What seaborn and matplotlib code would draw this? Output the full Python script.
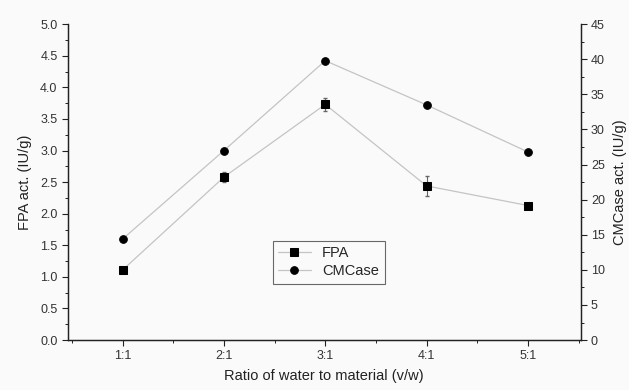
import numpy as np
import pandas as pd
import matplotlib
matplotlib.use("Agg")
import matplotlib.pyplot as plt
import seaborn as sns
from matplotlib.ticker import MultipleLocator

categories = ["1:1", "2:1", "3:1", "4:1", "5:1"]
fpa_values = [1.11, 2.58, 3.73, 2.44, 2.13]
fpa_errors = [0.04, 0.08, 0.10, 0.16, 0.04]
cmcase_values = [14.4, 27.0, 39.8, 33.5, 26.8]
cmcase_errors = [0.3, 0.3, 0.3, 0.3, 0.3]

sns.set_theme(style="ticks")
plt.rcParams['font.family'] = ['Liberation Sans', 'DejaVu Sans']

fig = plt.figure(figsize=(6.29, 3.90), dpi=100, facecolor="#fafafa")
ax = fig.add_axes([0.108, 0.128, 0.815, 0.81])
ax.set_facecolor("#fafafa")
ax2 = ax.twinx()

df = pd.DataFrame({"x": np.arange(len(categories)), "fpa": fpa_values, "cmc": cmcase_values})

line_col = "#c4c4c4"
ax.errorbar(df["x"], df["fpa"], yerr=fpa_errors, fmt="none", ecolor="#666666",
            elinewidth=0.8, capsize=1.5, zorder=1)
sns.lineplot(data=df, x="x", y="fpa", ax=ax, color=line_col, lw=0.9, zorder=3,
             marker="s", markersize=5.5, markerfacecolor="black", markeredgecolor="black", label="FPA", legend=False)
ax2.errorbar(df["x"], df["cmc"], yerr=cmcase_errors, fmt="none", ecolor="#666666",
             elinewidth=0.8, capsize=1.5, zorder=1)
sns.lineplot(data=df, x="x", y="cmc", ax=ax2, color=line_col, lw=0.9, zorder=3,
             marker="o", markersize=5.5, markerfacecolor="black", markeredgecolor="black", label="CMCase", legend=False)

ax.set_xlim(-0.54, 4.52)
ax.set_ylim(0, 5.0)
ax2.set_ylim(0, 45)
ax.set_xticks(df["x"])
ax.set_xticklabels(categories)
ax.xaxis.set_minor_locator(MultipleLocator(0.5))
ax.yaxis.set_major_locator(MultipleLocator(0.5))
ax.yaxis.set_minor_locator(MultipleLocator(0.25))
ax2.yaxis.set_major_locator(MultipleLocator(5))
ax2.yaxis.set_minor_locator(MultipleLocator(2.5))
ax.yaxis.set_major_formatter(matplotlib.ticker.FormatStrFormatter("%.1f"))

for a in (ax, ax2):
    a.spines["top"].set_visible(False)
    for s in a.spines.values():
        s.set_linewidth(0.9)
        s.set_color("#222222")
    a.tick_params(which="major", length=4, width=0.8, labelsize=9, colors="#222222", labelcolor="#333333")
    a.tick_params(which="minor", length=2.5, width=0.7, colors="#222222")

ax.set_xlabel("Ratio of water to material (v/w)", fontsize=10.5, color="#222222", labelpad=5)
ax.set_ylabel("FPA act. (IU/g)", fontsize=10.5, color="#222222", labelpad=6)
ax2.set_ylabel("CMCase act. (IU/g)", fontsize=10.5, color="#222222", labelpad=6)

h1, l1 = ax.get_legend_handles_labels()
h2, l2 = ax2.get_legend_handles_labels()
leg = ax2.legend(h1 + h2, l1 + l2, loc="lower left", bbox_to_anchor=(0.385, 0.155),
                 fontsize=10.5, frameon=True, fancybox=False, edgecolor="#444444",
                 handlelength=2.2, borderpad=0.4, labelspacing=0.25)
leg.get_frame().set_linewidth(0.8)
leg.get_frame().set_facecolor("#fafafa")

fig.savefig("out.png", dpi=100, facecolor=fig.get_facecolor())
